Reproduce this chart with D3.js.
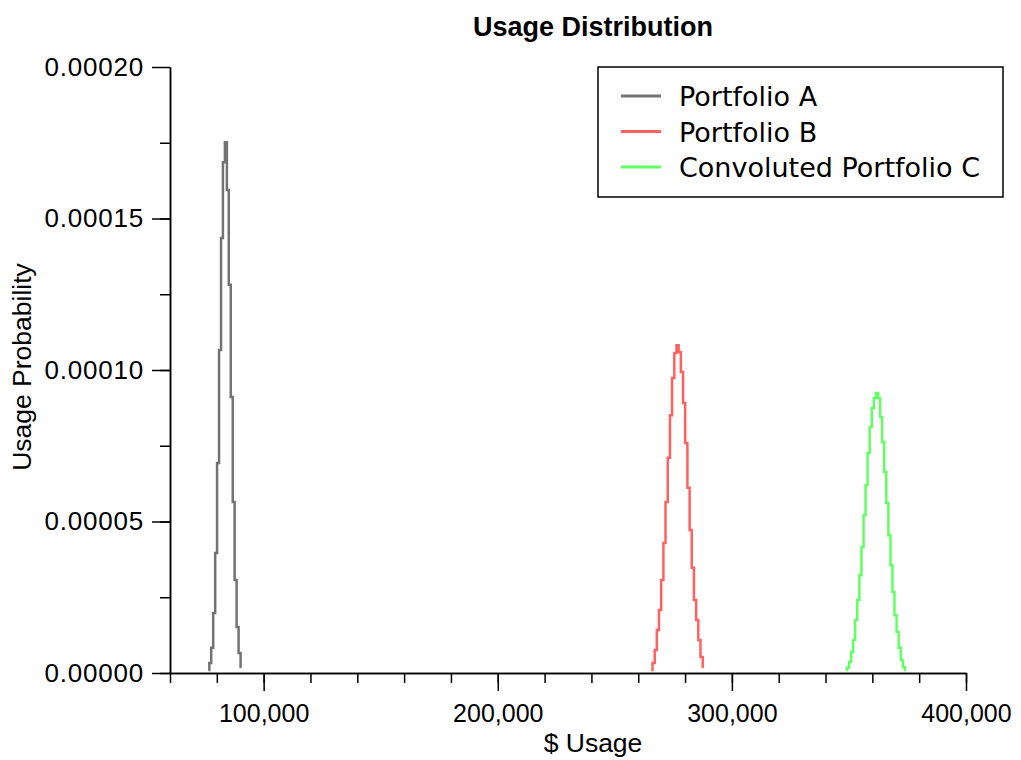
<!DOCTYPE html>
<html>
<head>
<meta charset="utf-8">
<script src="https://cdn.jsdelivr.net/npm/d3@7"></script>
<style>
  body { margin: 0; background: #fff; }
  .axis text { font-family: "Liberation Sans", Arial, sans-serif; fill: #000; }
  .x.axis text { font-size: 25px; }
  .y.axis text { font-size: 26px; letter-spacing: 0.8px; }
  .axis path, .axis line { stroke: #000; stroke-width: 1.5; }
</style>
</head>
<body>
<script>
// Portfolio A
var usageA = [76400, 77200, 78000, 78900, 79700, 80500, 81400, 82200, 83000, 83900,
              84700, 85500, 86400, 87200, 88000, 88900, 89700, 90600];
var probA = [0.0000010, 0.0000033, 0.0000083, 0.0000198, 0.0000396, 0.0000693, 0.0001066, 0.0001436, 0.0001686, 0.0001752,
             0.0001594, 0.0001281, 0.0000911, 0.0000564, 0.0000307, 0.0000152, 0.0000066, 0.0000020];

// Portfolio B
var usageB = [265600, 266600, 267500, 268400, 269300, 270300, 271200, 272100, 273100, 274000,
              274900, 275900, 276800, 277700, 278700, 279600, 280500, 281500, 282400, 283300,
              284300, 285200, 286100, 287100, 288000];
var probB = [0.0000010, 0.0000033, 0.0000076, 0.0000142, 0.0000208, 0.0000307, 0.0000429, 0.0000564, 0.0000710, 0.0000851,
             0.0000974, 0.0001056, 0.0001082, 0.0001059, 0.0000993, 0.0000891, 0.0000759, 0.0000611, 0.0000472, 0.0000347,
             0.0000241, 0.0000175, 0.0000109, 0.0000053, 0.0000020];

// Convoluted Portfolio C
var usageC = [348700, 349600, 350500, 351400, 352200, 353100, 354000, 354900, 355800, 356700,
              357500, 358400, 359300, 360200, 361100, 362000, 362900, 363700, 364600, 365500,
              366400, 367300, 368200, 369000, 369900, 370800, 371700, 372600, 373500, 374300];
var probC = [0.0000010, 0.0000017, 0.0000036, 0.0000069, 0.0000109, 0.0000175, 0.0000241, 0.0000323, 0.0000416, 0.0000521,
             0.0000620, 0.0000726, 0.0000812, 0.0000875, 0.0000908, 0.0000924, 0.0000908, 0.0000845, 0.0000762, 0.0000663,
             0.0000561, 0.0000455, 0.0000356, 0.0000267, 0.0000191, 0.0000135, 0.0000083, 0.0000043, 0.0000020, 0.0000010];

var seriesNames = ["Portfolio A", "Portfolio B", "Convoluted Portfolio C"];
var seriesColors = ["rgba(0,0,0,0.55)", "rgba(255,0,0,0.62)", "rgba(0,255,0,0.62)"];

var xMajorTicks = [100000, 200000, 300000, 400000];
var yMajorTicks = [0, 0.00005, 0.0001, 0.00015, 0.0002];

var margin = { top: 67, right: 55, bottom: 87, left: 170 },
    width = 1021 - margin.left - margin.right,
    height = 760 - margin.top - margin.bottom;

var xScale = d3.scaleLinear().domain([60000, 400000]).range([0, width]);
var yScale = d3.scaleLinear().domain([0, 0.0002]).range([height, 0]);

var root = d3.select("body").append("svg")
  .attr("width", 1021)
  .attr("height", 760);

var svg = root.append("g")
  .attr("transform", "translate(" + margin.left + "," + margin.top + ")");

// minor ticks first
svg.append("g")
  .attr("class", "x axis")
  .attr("transform", "translate(0," + height + ")")
  .call(d3.axisBottom(xScale).tickValues(d3.range(60000, 400001, 20000)).tickSize(10).tickSizeOuter(0).tickFormat(""));

svg.append("g")
  .attr("class", "y axis")
  .call(d3.axisLeft(yScale).tickValues(d3.range(0, 8).map(function (i) { return i * 0.000025; })).tickSize(10).tickSizeOuter(0).tickFormat(""));

// major ticks with labels
svg.append("g")
  .attr("class", "x axis")
  .attr("transform", "translate(0," + height + ")")
  .call(d3.axisBottom(xScale).tickValues(xMajorTicks).tickSize(18).tickSizeOuter(0).tickPadding(13).tickFormat(d3.format(",")));

svg.append("g")
  .attr("class", "y axis")
  .call(d3.axisLeft(yScale).tickValues(yMajorTicks).tickSize(18).tickSizeOuter(0).tickPadding(8).tickFormat(d3.format(".5f")));

var line = d3.line()
  .x(function (d) { return xScale(d[0]); })
  .y(function (d) { return yScale(d[1]); })
  .curve(d3.curveStep);

var allSeries = [
  d3.zip(usageA, probA),
  d3.zip(usageB, probB),
  d3.zip(usageC, probC)
];

svg.selectAll(".series")
  .data(allSeries)
  .enter().append("path")
  .attr("class", "series")
  .attr("fill", "none")
  .attr("stroke", function (d, i) { return seriesColors[i]; })
  .attr("stroke-width", 2.5)
  .attr("d", line);

// Title
root.append("text")
  .attr("x", 593)
  .attr("y", 36)
  .attr("text-anchor", "middle")
  .style("font-family", "Liberation Sans, Arial, sans-serif")
  .style("font-weight", "bold")
  .style("font-size", "27px")
  .text("Usage Distribution");

// x label
root.append("text")
  .attr("x", 593)
  .attr("y", 752)
  .attr("text-anchor", "middle")
  .style("font-family", "Liberation Sans, Arial, sans-serif")
  .style("font-size", "26.5px")
  .text("$ Usage");

// y label
root.append("text")
  .attr("transform", "rotate(-90)")
  .attr("x", -367)
  .attr("y", 31)
  .attr("text-anchor", "middle")
  .style("font-family", "Liberation Sans, Arial, sans-serif")
  .style("font-size", "26.5px")
  .text("Usage Probability");

// Legend
var legend = root.append("g").attr("transform", "translate(598,67)");
legend.append("rect")
  .attr("width", 405)
  .attr("height", 130)
  .attr("fill", "#fff")
  .attr("stroke", "#000")
  .attr("stroke-width", 1.5);

var items = legend.selectAll(".item")
  .data(seriesNames)
  .enter().append("g")
  .attr("class", "item")
  .attr("transform", function (d, i) { return "translate(0," + (29 + i * 35.5) + ")"; });

items.append("line")
  .attr("x1", 23).attr("x2", 63)
  .attr("stroke", function (d, i) { return seriesColors[i]; })
  .attr("stroke-width", 3);

items.append("text")
  .attr("x", 81)
  .attr("y", 10)
  .style("font-family", "DejaVu Sans, sans-serif")
  .style("font-size", "27px")
  .text(function (d) { return d; });
</script>
</body>
</html>
